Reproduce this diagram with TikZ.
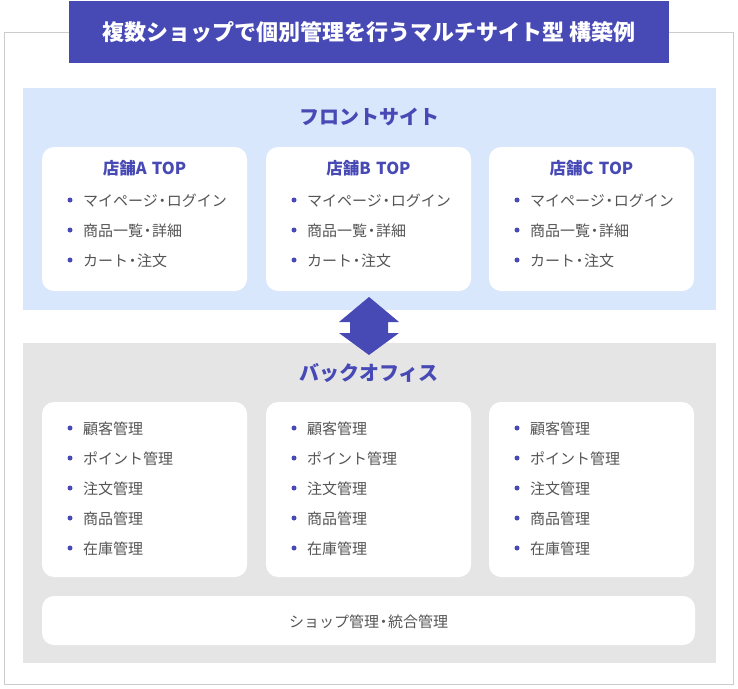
\documentclass[tikz,border=0pt]{standalone}
\usepackage{fontspec}
\setmainfont{Noto Sans CJK JP}
\definecolor{indigo}{HTML}{4749B5}
\definecolor{bluepanel}{HTML}{D9E7FD}
\definecolor{graypanel}{HTML}{E5E5E5}
\definecolor{frame}{HTML}{CCCCCC}
\definecolor{itemtext}{HTML}{555555}
\newcommand\nkg{\kern-0.2em・\kern-0.2em}
\tikzset{
  panel/.style={draw=none, inner sep=0pt, minimum width=693pt},
  card/.style={fill=white, rounded corners=12pt, inner sep=0pt, minimum width=205pt},
  sechead/.style={text=indigo, font=\fontsize{20}{24}\selectfont\bfseries, inner sep=0pt},
  cardhead/.style={text=indigo, font=\fontsize{16.5}{20}\selectfont\bfseries, inner sep=0pt},
  item/.style={text=itemtext, font=\fontsize{15}{18}\selectfont, anchor=west, inner sep=0pt},
  bullet/.style={fill=indigo, circle, inner sep=0pt, minimum size=5pt},
}
\begin{document}
\begin{tikzpicture}[x=1pt,y=-1pt]
\useasboundingbox (0,0) rectangle (738,688);
\draw[frame, line width=1pt] (4,32) rectangle (733,684);
\node[fill=indigo, minimum width=600pt, minimum height=62pt, inner sep=0pt, text=white,
      font=\fontsize{22}{26}\selectfont\bfseries] (title) at (369,32) {複数ショップで個別管理を行うマルチサイト型 構築例};
% panels
\node[panel, fill=bluepanel, minimum height=222pt] (front) at (369.5,199) {};
\node[panel, fill=graypanel, minimum height=320pt] (back) at (369.5,503) {};
\node[sechead] (fronthead) at (369,117) {フロントサイト};
\node[sechead] (backhead) at (369,373) {バックオフィス};
% arrow
\fill[indigo] (369,297) -- (399,322) -- (388,322) -- (388,333) -- (399,333) -- (369,355)
  -- (339,333) -- (350,333) -- (350,322) -- (339,322) -- cycle;
% top cards
\foreach \L/\n/\s in {42/a/A, 266/b/B, 489/c/C}{
  \node[card, minimum height=144pt] (top\n) at (\L+102.5,219) {};
  \node[cardhead] (top\n h) at (\L+102.5,168) {店舗\s\hspace{0.32em}TOP};
  \foreach \y/\t/\k in {201/マイページ\nkg ログイン/1, 231/商品一覧\nkg 詳細/2, 261/カート\nkg 注文/3}{
    \node[bullet] (top\n b\k) at (\L+28,\y-1) {};
    \node[item] (top\n t\k) at (\L+41,\y) {\t};
  }
}
% bottom cards
\foreach \L/\n in {42/a, 266/b, 489/c}{
  \node[card, minimum height=175pt] (bot\n) at (\L+102.5,489.5) {};
  \foreach \y/\t/\k in {429/顧客管理/1, 459/ポイント管理/2, 489/注文管理/3, 519/商品管理/4, 549/在庫管理/5}{
    \node[bullet] (bot\n b\k) at (\L+28,\y-1) {};
    \node[item] (bot\n t\k) at (\L+41,\y) {\t};
  }
}
\node[card, minimum width=653pt, minimum height=49pt] (shop) at (368.5,620.5) {};
\node[text=itemtext, font=\fontsize{15}{18}\selectfont, inner sep=0pt] (shopt) at (368.5,622) {ショップ管理\nkg 統合管理};
\end{tikzpicture}
\end{document}
